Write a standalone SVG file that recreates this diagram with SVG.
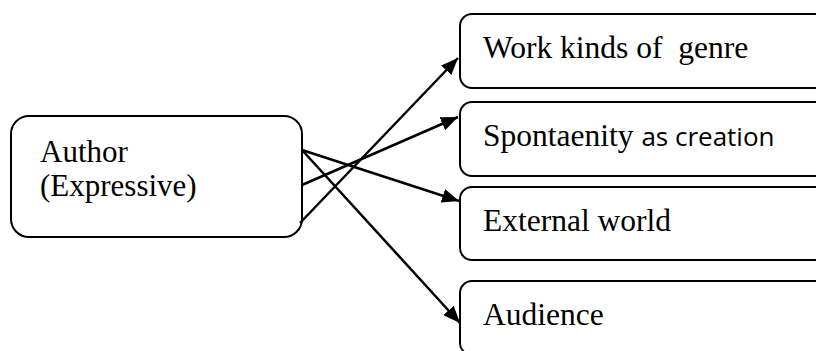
<svg xmlns="http://www.w3.org/2000/svg" width="816" height="351" viewBox="0 0 816 351">
<style>
.box{fill:#fff;stroke:#000;stroke-width:2}
.t{font-family:"Liberation Serif","Times New Roman",serif;font-size:31.5px;fill:#000}
.a{font-family:"Liberation Serif","Times New Roman",serif;font-size:31px;fill:#000}
.s{font-family:"Open Sans","Noto Sans",sans-serif;font-size:26px;fill:#000}
.c{stroke:#000;stroke-width:2.5;fill:none}
</style>
<defs>
<marker id="ah" viewBox="0 0 17 14" refX="17" refY="7" markerWidth="17" markerHeight="14" markerUnits="userSpaceOnUse" orient="auto">
<path d="M0,0 L17,7 L0,14 Z" fill="#000"/>
</marker>
</defs>
<rect width="816" height="351" fill="#fff"/>
<g id="author">
<rect class="box" x="11" y="116" width="291" height="121" rx="18"/>
<text class="a" x="40" y="162">Author</text>
<text class="a" x="40" y="196">(Expressive)</text>
</g>
<g id="work">
<rect class="box" x="460" y="14" width="380" height="74" rx="12"/>
<text class="t" x="483" y="58" xml:space="preserve">Work kinds of  genre</text>
</g>
<g id="spontaneity">
<rect class="box" x="460" y="102" width="380" height="74" rx="12"/>
<text class="t" x="483" y="146">Spontaenity <tspan class="s">as creation</tspan></text>
</g>
<g id="external">
<rect class="box" x="460" y="187" width="380" height="73" rx="12"/>
<text class="t" x="483" y="231">External world</text>
</g>
<g id="audience">
<rect class="box" x="460" y="281" width="380" height="74" rx="12"/>
<text class="t" x="483" y="325">Audience</text>
</g>
<g id="connectors">
<line class="c" x1="300" y1="223" x2="458" y2="58" marker-end="url(#ah)"/>
<line class="c" x1="302" y1="185" x2="458" y2="117" marker-end="url(#ah)"/>
<line class="c" x1="302" y1="150" x2="459" y2="201" marker-end="url(#ah)"/>
<line class="c" x1="302" y1="150" x2="460" y2="323" marker-end="url(#ah)"/>
</g>
</svg>
